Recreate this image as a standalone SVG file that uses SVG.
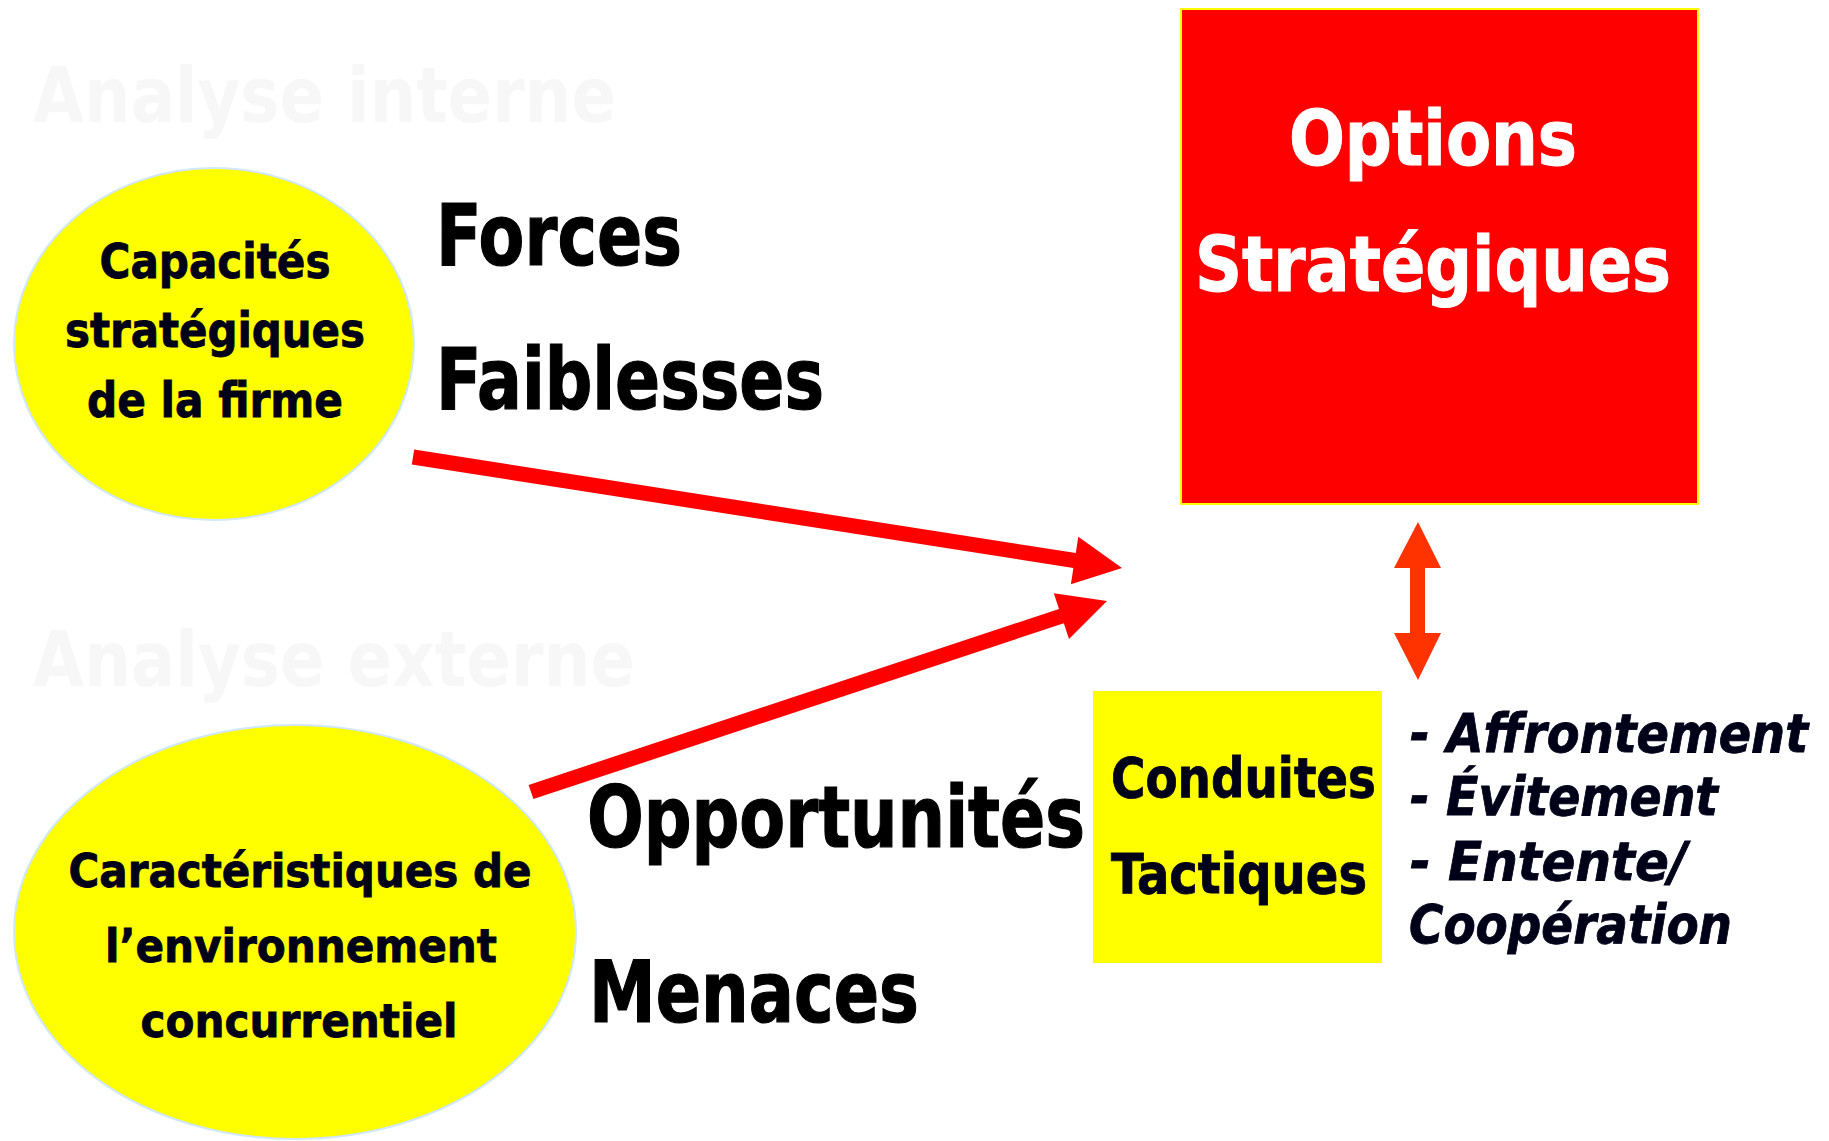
<svg xmlns="http://www.w3.org/2000/svg" width="1829" height="1141" viewBox="0 0 1829 1141">
  <style>
    text { font-family: "DejaVu Sans", "Liberation Sans", sans-serif; font-stretch: condensed; font-weight: bold; }
    .wm { font-size: 76px; fill: #f7f7f7; }
    .node-txt { font-size: 48px; fill: #000019; stroke: #000019; stroke-width: 0.8; text-anchor: middle; }
    .big { font-size: 86px; fill: #000000; stroke: #000000; stroke-width: 1.2; }
    .title { font-size: 76px; fill: #ffffff; stroke: #ffffff; stroke-width: 1; text-anchor: middle; }
    .tact { font-size: 55px; fill: #000019; stroke: #000019; stroke-width: 0.8; }
    .list { font-size: 53px; fill: #000019; stroke: #000019; stroke-width: 0.8; font-style: italic; }
    .bubble { fill: #ffff00; stroke: #cfe8fb; stroke-width: 2; }
    .arrow { fill: #ff0000; }
    .arrow2 { fill: #ff3300; }
  </style>
  <rect width="1829" height="1141" fill="#ffffff"/>

  <!-- faint section headings -->
  <g id="headings">
    <text class="wm" x="33" y="122" textLength="583" lengthAdjust="spacingAndGlyphs">Analyse interne</text>
    <text class="wm" x="33" y="686" textLength="602" lengthAdjust="spacingAndGlyphs">Analyse externe</text>
  </g>

  <!-- internal analysis bubble -->
  <g id="capacites">
    <ellipse class="bubble" cx="214" cy="344" rx="200" ry="176"/>
    <text class="node-txt" x="215" y="278" textLength="231" lengthAdjust="spacingAndGlyphs">Capacités</text>
    <text class="node-txt" x="215" y="347" textLength="300" lengthAdjust="spacingAndGlyphs">stratégiques</text>
    <text class="node-txt" x="215" y="417" textLength="256" lengthAdjust="spacingAndGlyphs">de la firme</text>
  </g>

  <!-- external analysis bubble -->
  <g id="environnement">
    <ellipse class="bubble" cx="295" cy="932" rx="281" ry="207"/>
    <text class="node-txt" x="300" y="887" style="font-size:47px" textLength="463" lengthAdjust="spacingAndGlyphs">Caractéristiques de</text>
    <text class="node-txt" x="301" y="962" style="font-size:47px" textLength="392" lengthAdjust="spacingAndGlyphs">l’environnement</text>
    <text class="node-txt" x="299" y="1037" style="font-size:47px" textLength="317" lengthAdjust="spacingAndGlyphs">concurrentiel</text>
  </g>

  <!-- SWOT labels -->
  <g id="forces-faiblesses">
    <text class="big" x="436" y="265" textLength="246" lengthAdjust="spacingAndGlyphs">Forces</text>
    <text class="big" x="436" y="409" textLength="388" lengthAdjust="spacingAndGlyphs">Faiblesses</text>
  </g>
  <g id="opportunites-menaces">
    <text class="big" x="587" y="847" textLength="498" lengthAdjust="spacingAndGlyphs">Opportunités</text>
    <text class="big" x="589" y="1022" textLength="330" lengthAdjust="spacingAndGlyphs">Menaces</text>
  </g>

  <!-- strategic options -->
  <g id="options">
    <rect x="1181" y="9" width="517" height="495" fill="#ff0000" stroke="#ffff00" stroke-width="2"/>
    <text class="title" x="1433" y="165" textLength="288" lengthAdjust="spacingAndGlyphs">Options</text>
    <text class="title" x="1433" y="291" textLength="476" lengthAdjust="spacingAndGlyphs">Stratégiques</text>
  </g>

  <!-- tactical conduct -->
  <g id="conduites">
    <rect x="1093" y="691" width="289" height="272" fill="#ffff00"/>
    <text class="tact" x="1111" y="797" textLength="265" lengthAdjust="spacingAndGlyphs">Conduites</text>
    <text class="tact" x="1111" y="893" textLength="256" lengthAdjust="spacingAndGlyphs">Tactiques</text>
  </g>

  <g id="liste">
    <text class="list" x="1410" y="752" textLength="398" lengthAdjust="spacingAndGlyphs">- Affrontement</text>
    <text class="list" x="1410" y="815" textLength="308" lengthAdjust="spacingAndGlyphs">- Évitement</text>
    <text class="list" x="1410" y="880" textLength="277" lengthAdjust="spacingAndGlyphs">- Entente/</text>
    <text class="list" x="1409" y="943" textLength="323" lengthAdjust="spacingAndGlyphs">Coopération</text>
  </g>

  <!-- connectors -->
  <g id="connectors">
    <polygon class="arrow" points="414.2,449.6 1075.8,553.1 1078.3,536.8 1122,568 1070.9,584.2 1073.4,567.9 411.8,464.4"/>
    <polygon class="arrow" points="528.6,784.9 1059.0,609.0 1053.8,593.3 1107,601 1069.0,638.9 1063.8,623.2 533.4,799.1"/>
    <polygon class="arrow2" points="1418,522 1441,568 1425,568 1425,633 1441,633 1418,680 1394,633 1410,633 1410,568 1394,568"/>
  </g>
</svg>
